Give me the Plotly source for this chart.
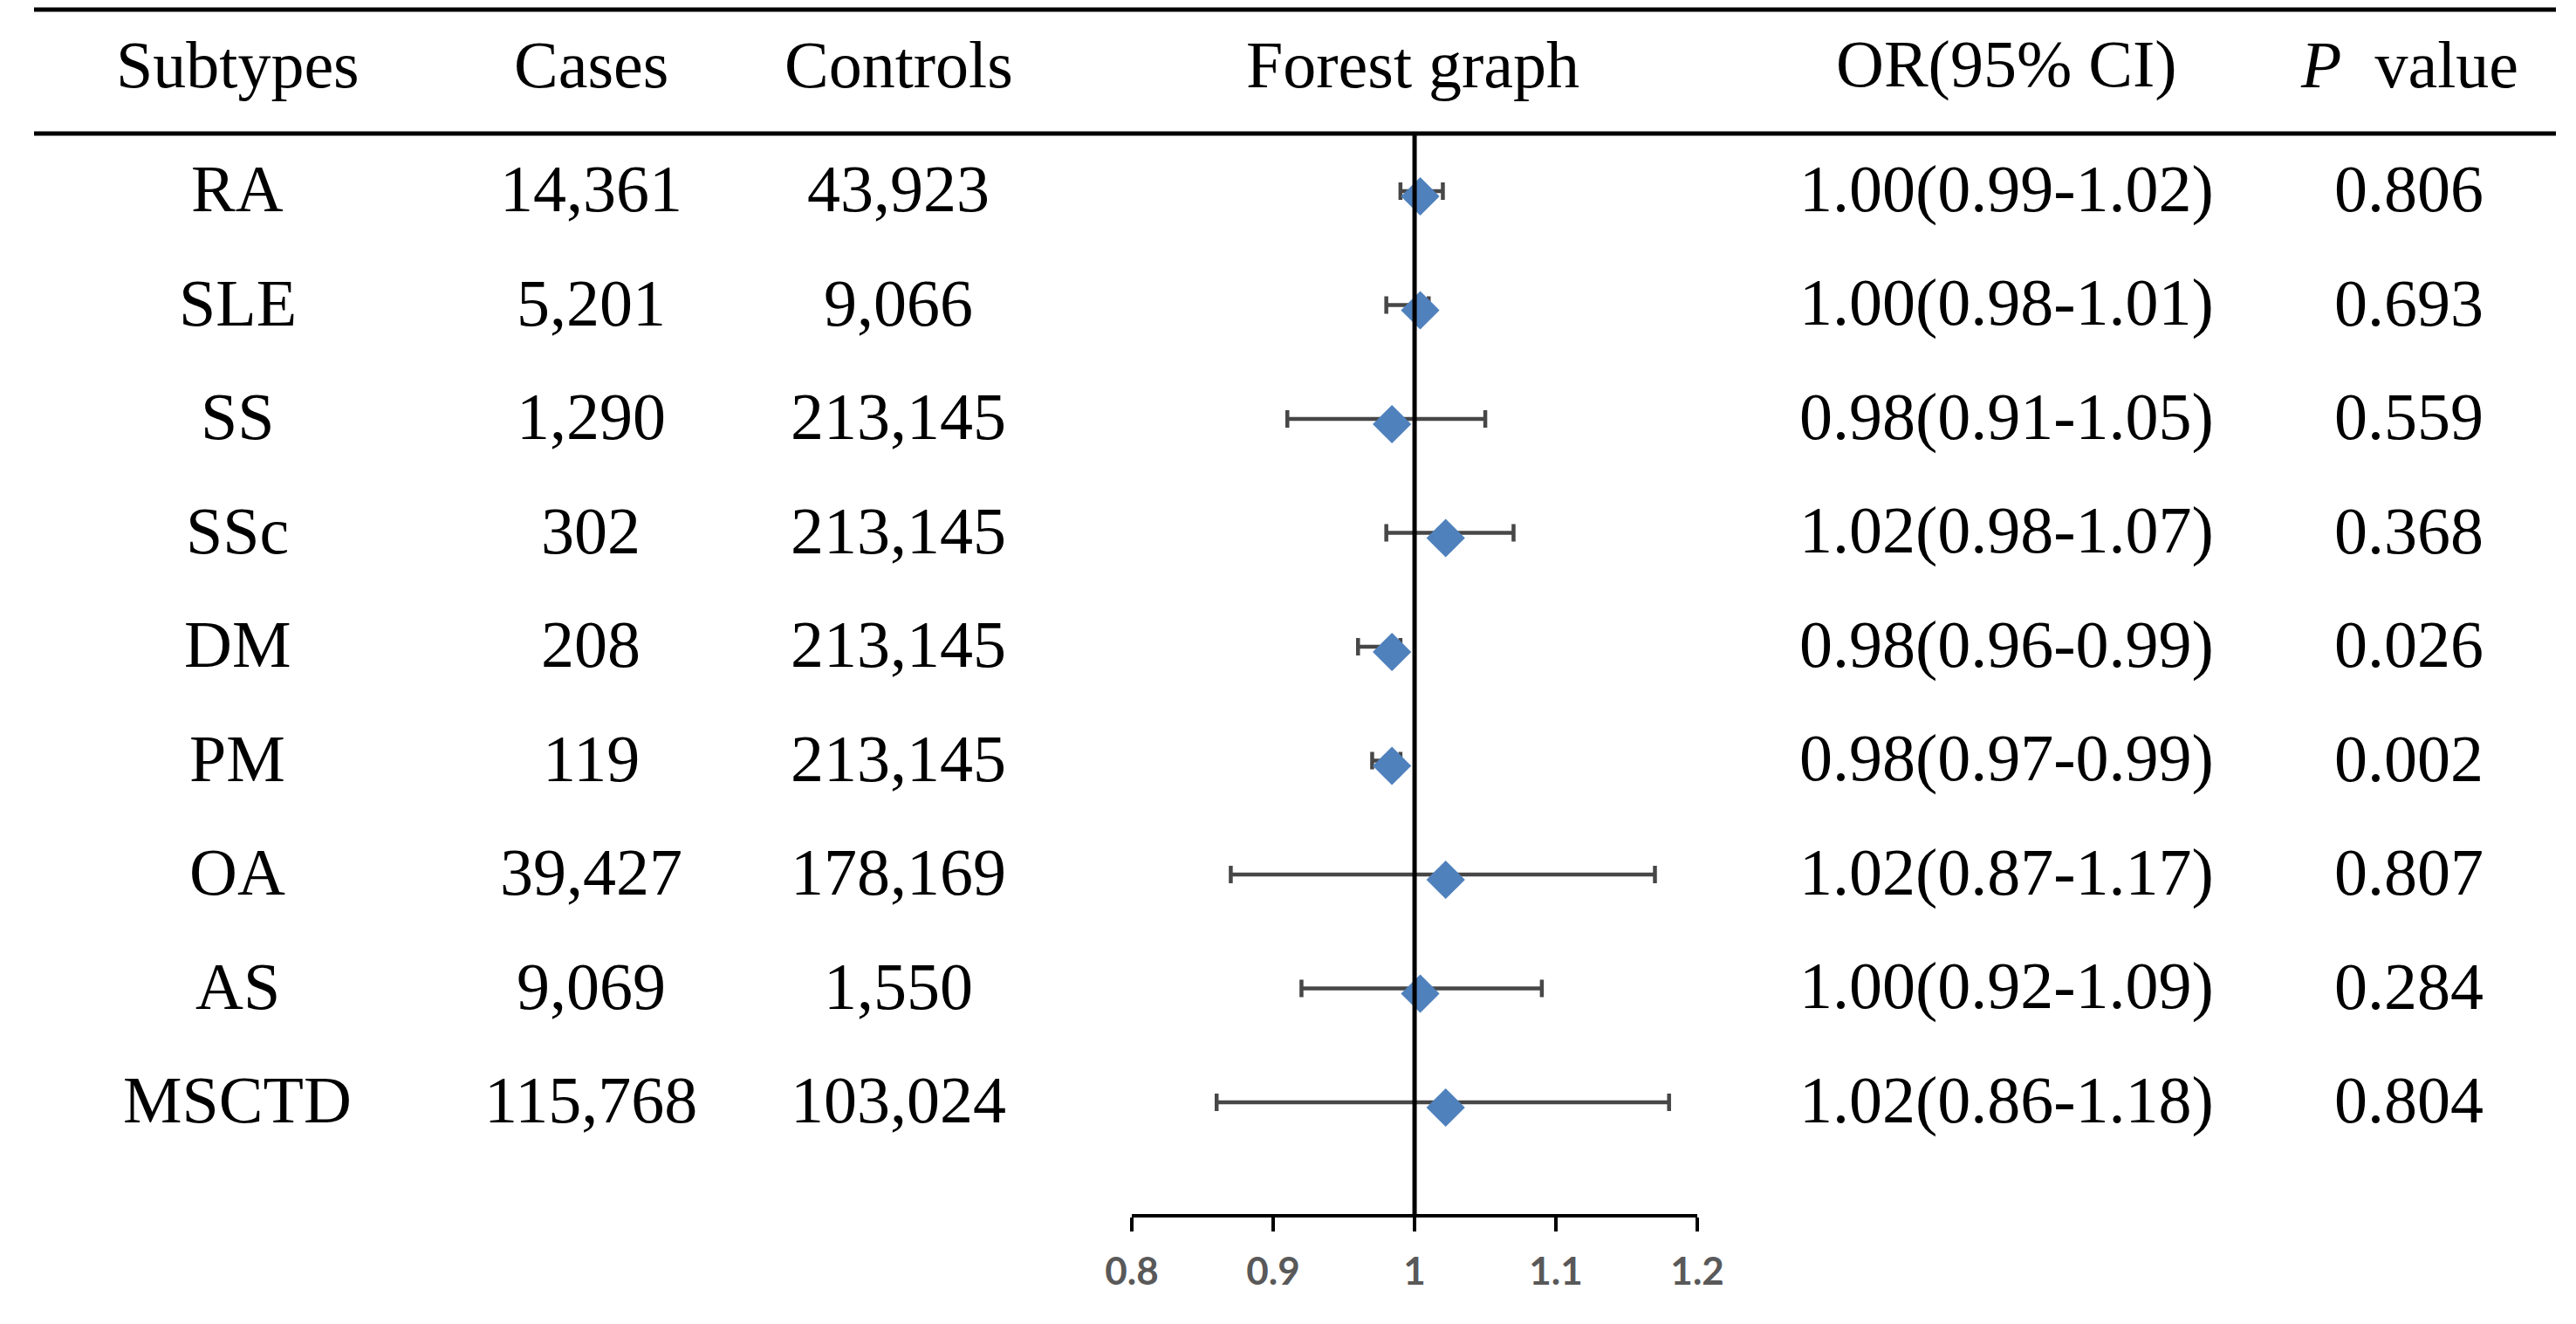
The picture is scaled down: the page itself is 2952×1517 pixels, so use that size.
import plotly.graph_objects as go

subtypes = ["RA", "SLE", "SS", "SSc", "DM", "PM", "OA", "AS", "MSCTD"]
cases = ["14,361", "5,201", "1,290", "302", "208", "119", "39,427", "9,069", "115,768"]
controls = ["43,923", "9,066", "213,145", "213,145", "213,145", "213,145", "178,169", "1,550", "103,024"]
or_text = ["1.00(0.99-1.02)", "1.00(0.98-1.01)", "0.98(0.91-1.05)", "1.02(0.98-1.07)",
           "0.98(0.96-0.99)", "0.98(0.97-0.99)", "1.02(0.87-1.17)", "1.00(0.92-1.09)",
           "1.02(0.86-1.18)"]
p_values = ["0.806", "0.693", "0.559", "0.368", "0.026", "0.002", "0.807", "0.284", "0.804"]

# point estimates read off the diamonds, CI limits from the table
or_est = [1.004, 1.004, 0.984, 1.022, 0.984, 0.984, 1.022, 1.004, 1.022]
ci_low = [0.99, 0.98, 0.91, 0.98, 0.96, 0.97, 0.87, 0.92, 0.86]
ci_high = [1.02, 1.01, 1.05, 1.07, 0.99, 0.99, 1.17, 1.09, 1.18]

headers = ["Subtypes", "Cases", "Controls", "Forest graph", "OR(95% CI)", "<i>P</i>\u00a0 value"]
tick_vals = [0.8, 0.9, 1, 1.1, 1.2]
tick_text = ["0.8", "0.9", "1", "1.1", "1.2"]

W, H = 2952, 1517
col_x = [238, 652, 1012, 1614, 2309, 2780]
row0, row_step = 217, 130.5
text_lift = 9  # px, text box centre sits a bit below the glyph centre
serif = "Liberation Serif"
blue = "#4F81BD"
bar_grey = "#474747"

rows = list(range(len(subtypes)))
y_top = (0 - row0) / row_step
y_bot = (H - row0) / row_step

fig = go.Figure()

# error bars sit a few pixels above the diamond centre, like in Excel
fig.add_trace(go.Scatter(
    x=or_est, y=[r - 6 / row_step for r in rows], mode="markers",
    marker=dict(size=1, color="rgba(0,0,0,0)"),
    error_x=dict(type="data", symmetric=False,
                 array=[h - o for h, o in zip(ci_high, or_est)],
                 arrayminus=[o - l for o, l in zip(or_est, ci_low)],
                 color=bar_grey, thickness=4.5, width=10),
    showlegend=False, hoverinfo="skip"))

fig.add_trace(go.Scatter(
    x=or_est, y=rows, mode="markers",
    marker=dict(symbol="diamond", size=34, color=blue, line=dict(width=0)),
    showlegend=False))

# vertical reference line at OR = 1
fig.add_shape(type="line", xref="x", yref="paper", x0=1, x1=1,
              y0=1 - 1385 / H, y1=1 - 145 / H, line=dict(color="black", width=5))

# table rules
for py in [3, 145, 1513]:
    fig.add_shape(type="line", xref="paper", yref="paper", x0=0, x1=1,
                  y0=1 - py / H, y1=1 - py / H, line=dict(color="black", width=5))

# header
for cx, h in zip(col_x, headers):
    fig.add_annotation(x=cx / W, y=1 - (75 - text_lift) / H, xref="paper", yref="paper",
                       text=h, showarrow=False, xanchor="center", yanchor="middle",
                       font=dict(family=serif, size=76, color="black"))

# body cells
for col, values in zip([0, 1, 2, 4, 5], [subtypes, cases, controls, or_text, p_values]):
    for r, v in zip(rows, values):
        fig.add_annotation(x=col_x[col] / W, y=r - text_lift / row_step, xref="paper",
                           yref="y", text=v, showarrow=False,
                           xanchor="center", yanchor="middle",
                           font=dict(family=serif, size=76, color="black"))

fig.update_layout(
    width=W, height=H, margin=dict(l=0, r=0, t=0, b=0),
    paper_bgcolor="white", plot_bgcolor="white",
    xaxis=dict(domain=[1285 / W, 1947 / W], range=[0.8, 1.2],
               anchor="free", position=1 - 1385 / H,
               tickvals=tick_vals, ticktext=tick_text,
               ticks="outside", ticklen=16, tickwidth=4, tickcolor="black",
               showline=True, linewidth=4, linecolor="black",
               showgrid=False, zeroline=False, ticklabelstandoff=8,
               tickfont=dict(family="Lato", size=44, color="#595959", weight="bold")),
    yaxis=dict(domain=[0, 1], range=[y_bot, y_top], visible=False,
               showgrid=False, zeroline=False),
)

fig.write_html("out.html")
